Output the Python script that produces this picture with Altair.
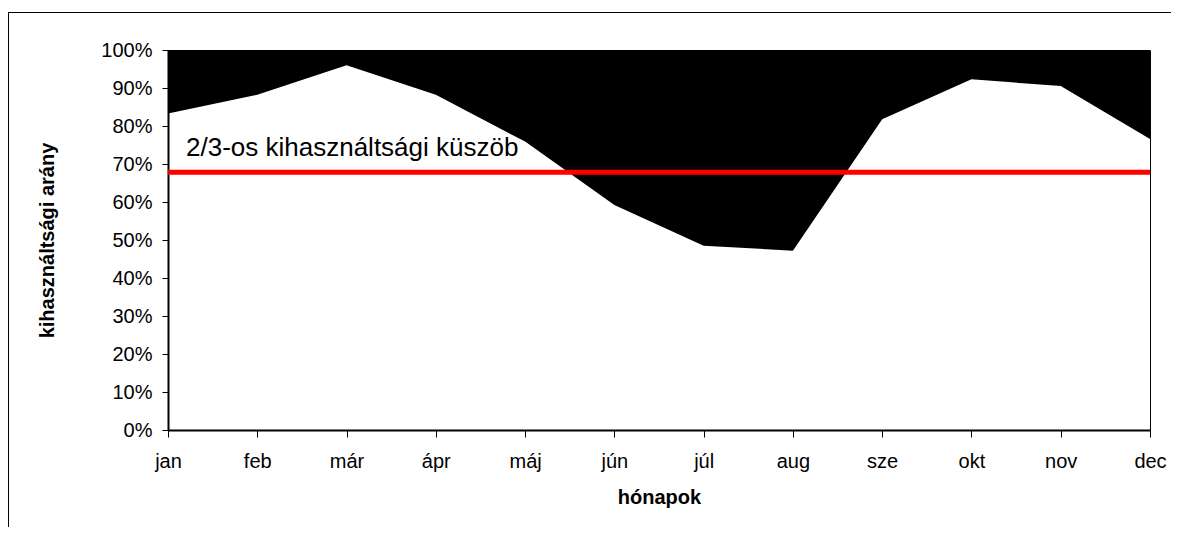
import altair as alt
import pandas as pd
import json

months = ["jan", "feb", "már", "ápr", "máj", "jún", "júl", "aug", "sze", "okt", "nov", "dec"]
utilization = [0.833, 0.882, 0.960, 0.882, 0.759, 0.592, 0.485, 0.472, 0.818, 0.923, 0.905, 0.766]
threshold = 0.678
threshold_label = "2/3-os kihasználtsági küszöb"
y_ticks = [0, 0.1, 0.2, 0.3, 0.4, 0.5, 0.6, 0.7, 0.8, 0.9, 1.0]

idx = list(range(len(months)))
df = pd.DataFrame({
    "honap": months,
    "idx": idx,
    "arany": utilization,
    "top": [1.0] * len(months),
})

FONT = "Liberation Sans"
X_TITLE = "hónapok"
Y_TITLE = "kihasználtsági arány"

x_scale = alt.Scale(domain=[0, len(months) - 1], nice=False, zero=False)
y_scale = alt.Scale(domain=[0, 1], nice=False)

label_expr = json.dumps(months, ensure_ascii=False) + "[round(datum.value)]"

x_axis = alt.Axis(
    values=idx,
    labelExpr=label_expr,
    labelAngle=0,
    labelFontSize=20,
    labelColor="black",
    labelPadding=14,
    labelFlush=False,
    labelOverlap=False,
    tickColor="black",
    tickSize=7,
    tickWidth=1,
    domainColor="black",
    domainWidth=2,
    titleFontSize=20,
    titleFontWeight="bold",
    titleColor="black",
    titlePadding=16,
    grid=False,
)

y_axis = alt.Axis(
    format=".0%",
    values=y_ticks,
    tickCount=11,
    labelFontSize=20,
    labelColor="black",
    labelPadding=10,
    labelOverlap=False,
    labelFlush=False,
    tickColor="black",
    tickSize=6,
    tickWidth=1,
    domainColor="black",
    domainWidth=2,
    titleFontSize=20,
    titleFontWeight="bold",
    titleColor="black",
    titlePadding=43,
    grid=False,
)

area = alt.Chart(df).mark_area(color="black", interpolate="linear", opacity=1).encode(
    x=alt.X("idx:Q", scale=x_scale, axis=x_axis, title=X_TITLE),
    y=alt.Y("arany:Q", scale=y_scale, axis=y_axis, title=Y_TITLE),
    y2="top:Q",
)

rule = alt.Chart(pd.DataFrame({"t": [threshold]})).mark_rule(color="#FF0000", strokeWidth=5).encode(
    y=alt.Y("t:Q", scale=y_scale, axis=y_axis, title=Y_TITLE)
)

label = alt.Chart(pd.DataFrame({"t": [threshold], "m": [0], "txt": [threshold_label]})).mark_text(
    align="left", baseline="alphabetic", dx=18, dy=-16, fontSize=26, font=FONT, color="black"
).encode(
    x=alt.X("m:Q", scale=x_scale, axis=x_axis, title=X_TITLE),
    y=alt.Y("t:Q", scale=y_scale, axis=y_axis, title=Y_TITLE),
    text="txt:N",
)

frame_left = alt.Chart(pd.DataFrame({"a": [0]})).mark_rule(color="black", strokeWidth=1).encode(
    x=alt.value(-159.5), y=alt.value(-38), y2=alt.value(600)
)
frame_top = alt.Chart(pd.DataFrame({"a": [0]})).mark_rule(color="black", strokeWidth=1).encode(
    x=alt.value(-159.5), x2=alt.value(1300), y=alt.value(-37.5)
)

chart = (
    alt.layer(area, rule, label, frame_left, frame_top)
    .properties(
        width=982,
        height=380,
        autosize=alt.AutoSizeParams(type="none"),
        padding={"left": 160, "top": 42, "right": 21, "bottom": 97},
    )
    .configure(font=FONT)
    .configure_view(stroke="black", strokeWidth=1)
    .configure_axis(labelFont=FONT, titleFont=FONT)
)

chart.save("out.html", embed_options={"renderer": "svg", "actions": False})
